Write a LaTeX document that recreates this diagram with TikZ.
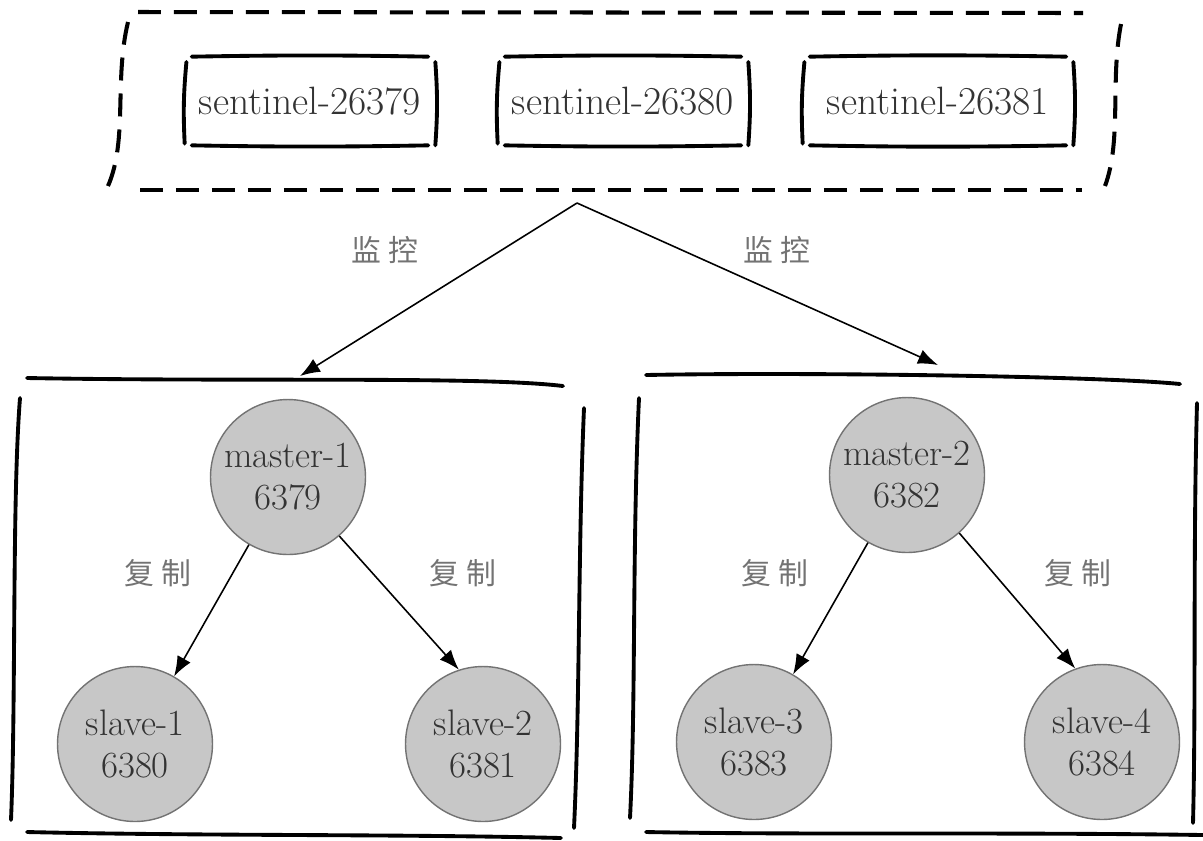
\documentclass[tikz,border=0pt]{standalone}
\usepackage{fontspec}
\newfontfamily\cjk{Noto Sans CJK SC}
\usetikzlibrary{arrows.meta}

% hand drawn frame round a node
\newcommand{\sketchbox}[1]{%
  \draw[sketch] ([xshift=4pt]#1.north west) to[bend left=1] ([xshift=-4pt]#1.north east);
  \draw[sketch] ([xshift=4pt]#1.south west) to[bend right=1] ([xshift=-4pt]#1.south east);
  \draw[sketch] ([xshift=1pt,yshift=-3pt]#1.north west) to[bend right=4] ([yshift=1pt]#1.south west);
  \draw[sketch] ([yshift=-3pt]#1.north east) to[bend left=4] (#1.south east);
}

\begin{document}
\begin{tikzpicture}[
  x=0.02cm, y=-0.02cm,
  >={Latex[length=0.4cm,width=0.3cm]},
  sentbox/.style={minimum width=5cm, minimum height=1.76cm, inner sep=0pt,
                  text=black!80, font=\fontsize{22.5}{26}\selectfont},
  redisnode/.style={circle, draw=black!55, line width=0.8pt, fill=black!22,
                    minimum size=3.1cm, inner sep=0pt, align=center,
                    text=black!80, font=\fontsize{21}{24}\selectfont},
  lbl/.style={text=black!55, font=\cjk\fontsize{17}{20}\selectfont},
  sketch/.style={line width=2.2pt, line cap=round},
  dashbox/.style={line width=2.3pt, dash pattern=on 0.46cm off 0.26cm},
  link/.style={->, line width=0.9pt}
]
\useasboundingbox (0,0) rectangle (1203,840);

% Sentinels
\node[sentbox] (n0) at (310,101) {sentinel-26379};
\node[sentbox] (n1) at (623,101) {sentinel-26380};
\node[sentbox, minimum width=5.4cm] (n2) at (938,101) {sentinel-26381};
\foreach \n in {n0,n1,n2} {\sketchbox{\n}}

% Dashed group
\draw[dashbox] (138,12) -- (1083,13);
\draw[dashbox] (140,190) -- (1082,190);
\draw[dashbox] (128,22) .. controls (114,80) and (128,140) .. (108,186);
\draw[dashbox] (1121,24) .. controls (1110,80) and (1122,140) .. (1105,186);

% Monitoring arrows
\coordinate (watch) at (577,203);
\coordinate (c1in) at (300,376);
\coordinate (c2in) at (938,365);
\draw[link] (watch) -- (c1in);
\draw[link] (watch) -- (c2in);
\node[lbl] (w0) at (385,250) {监\hspace{4pt}控};
\node[lbl] (w1) at (777,250) {监\hspace{4pt}控};

% Left cluster frame
\draw[sketch] (27,378) .. controls (250,382) and (480,376) .. (563,386);
\draw[sketch] (20,398) .. controls (12,500) and (16,700) .. (11,820);
\draw[sketch] (584,408) .. controls (578,550) and (580,700) .. (574,828);
\draw[sketch] (27,832) .. controls (200,836) and (400,834) .. (561,838);

% Right cluster frame
\draw[sketch] (646,375) .. controls (800,372) and (1100,376) .. (1180,384);
\draw[sketch] (639,398) .. controls (632,550) and (636,700) .. (630,818);
\draw[sketch] (1197,403) .. controls (1193,550) and (1196,700) .. (1193,823);
\draw[sketch] (646,832) .. controls (800,835) and (1000,832) .. (1203,835);

% Left cluster
\node[redisnode] (m1) at (288,477) {master-1\\6379};
\node[redisnode] (s1) at (135,744) {slave-1\\6380};
\node[redisnode] (s2) at (483,744) {slave-2\\6381};
\draw[link] (m1.-120) -- (s1.60);
\draw[link] (m1.-49) -- (s2.108);
\node[lbl] (r0) at (158,573) {复\hspace{4pt}制};
\node[lbl] (r1) at (463,573) {复\hspace{4pt}制};

% Right cluster
\node[redisnode] (m2) at (907,475) {master-2\\6382};
\node[redisnode] (s3) at (754,742) {slave-3\\6383};
\node[redisnode] (s4) at (1102,742) {slave-4\\6384};
\draw[link] (m2.-120) -- (s3.60);
\draw[link] (m2.-48) -- (s4.110);
\node[lbl] (r2) at (775,573) {复\hspace{4pt}制};
\node[lbl] (r3) at (1078,573) {复\hspace{4pt}制};

\end{tikzpicture}
\end{document}
